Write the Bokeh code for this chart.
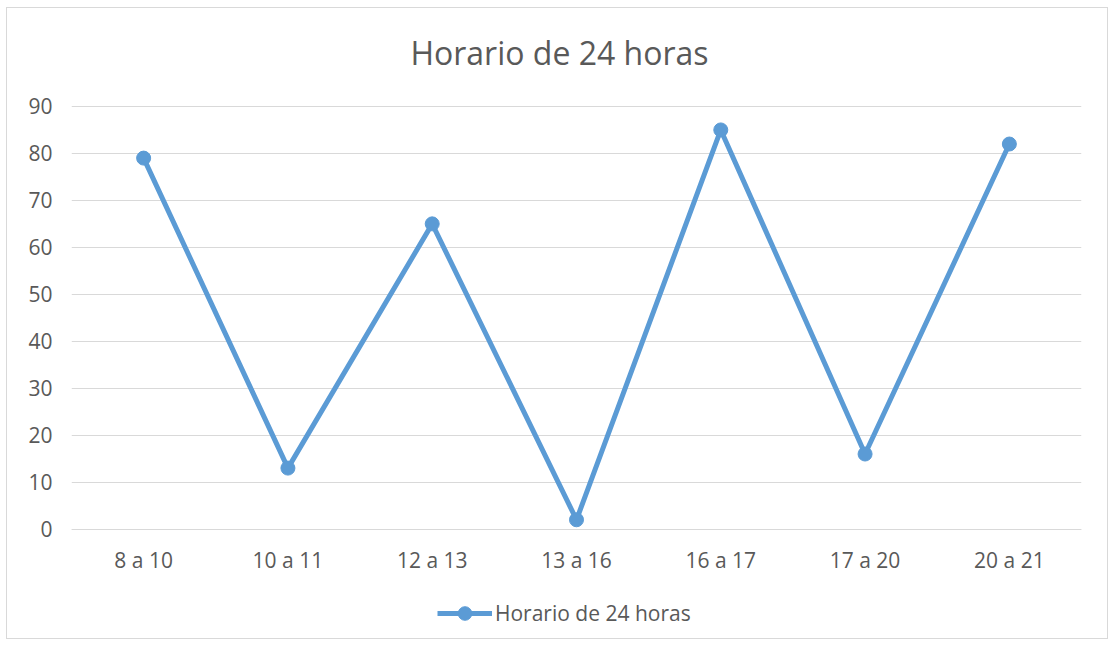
from bokeh.plotting import figure
from bokeh.models import (FactorRange, Range1d, FixedTicker, Legend,
                          LegendItem, ColumnDataSource, Label)
from bokeh.embed import file_html
from bokeh.resources import INLINE

categories = ["8 a 10", "10 a 11", "12 a 13", "13 a 16", "16 a 17", "17 a 20", "20 a 21"]
values = [79, 13, 65, 2, 85, 16, 82]
y_ticks = [0, 10, 20, 30, 40, 50, 60, 70, 80, 90]
series_name = "Horario de 24 horas"
title_text = "Horario de 24 horas"

BLUE = "#5B9BD5"
TEXT = "#595959"
GRID = "#D9D9D9"
FONT = "Open Sans"

src = ColumnDataSource(dict(x=categories, y=values))

# the frame extends above 90 and below 0 so that the title and the legend
# (drawn inside it) sit above the grid and under the x labels
p = figure(width=1102, height=632, output_backend="svg", toolbar_location=None,
           x_range=FactorRange(*categories, range_padding=0),
           y_range=Range1d(-22, 109.15),
           min_border_left=64, min_border_right=28, min_border_top=8,
           min_border_bottom=8)
p.title = None

line = p.line("x", "y", source=src, line_color=BLUE, line_width=5)
pts = p.scatter("x", "y", source=src, size=14, fill_color=BLUE, line_color=BLUE)

p.add_layout(Label(text=title_text, x=488, y=580, x_units="screen", y_units="screen",
                   text_align="center", text_baseline="alphabetic",
                   text_font=FONT, text_font_size="32px", text_color=TEXT))

p.outline_line_color = None
p.xgrid.grid_line_color = None
p.ygrid.ticker = FixedTicker(ticks=y_ticks)
p.ygrid.grid_line_color = GRID
p.ygrid.grid_line_width = 1

p.yaxis.ticker = FixedTicker(ticks=y_ticks)
p.yaxis.axis_line_color = None
p.yaxis.major_tick_line_color = None
p.yaxis.minor_tick_line_color = None
p.yaxis.major_tick_out = 0
p.yaxis.major_label_standoff = 19
p.yaxis.major_label_text_font = FONT
p.yaxis.major_label_text_font_size = "21px"
p.yaxis.major_label_text_color = TEXT

p.xaxis.fixed_location = 0
p.xaxis.axis_line_color = GRID
p.xaxis.major_tick_line_color = None
p.xaxis.minor_tick_line_color = None
p.xaxis.major_tick_out = 0
p.xaxis.major_label_standoff = 17
p.xaxis.major_label_text_font = FONT
p.xaxis.major_label_text_font_size = "21px"
p.xaxis.major_label_text_color = TEXT

legend = Legend(items=[LegendItem(label=series_name, renderers=[line, pts])],
                orientation="horizontal", location=(366, 2),
                border_line_color=None, background_fill_alpha=0,
                glyph_width=55, glyph_height=34, label_standoff=3,
                label_text_font=FONT, label_text_font_size="21px",
                label_text_color=TEXT, padding=0, margin=0)
p.add_layout(legend)

p.styles = {"border": "1px solid #D9D9D9", "margin-left": "6px", "margin-top": "7px"}

open("out.html", "w").write(file_html(p, INLINE))
